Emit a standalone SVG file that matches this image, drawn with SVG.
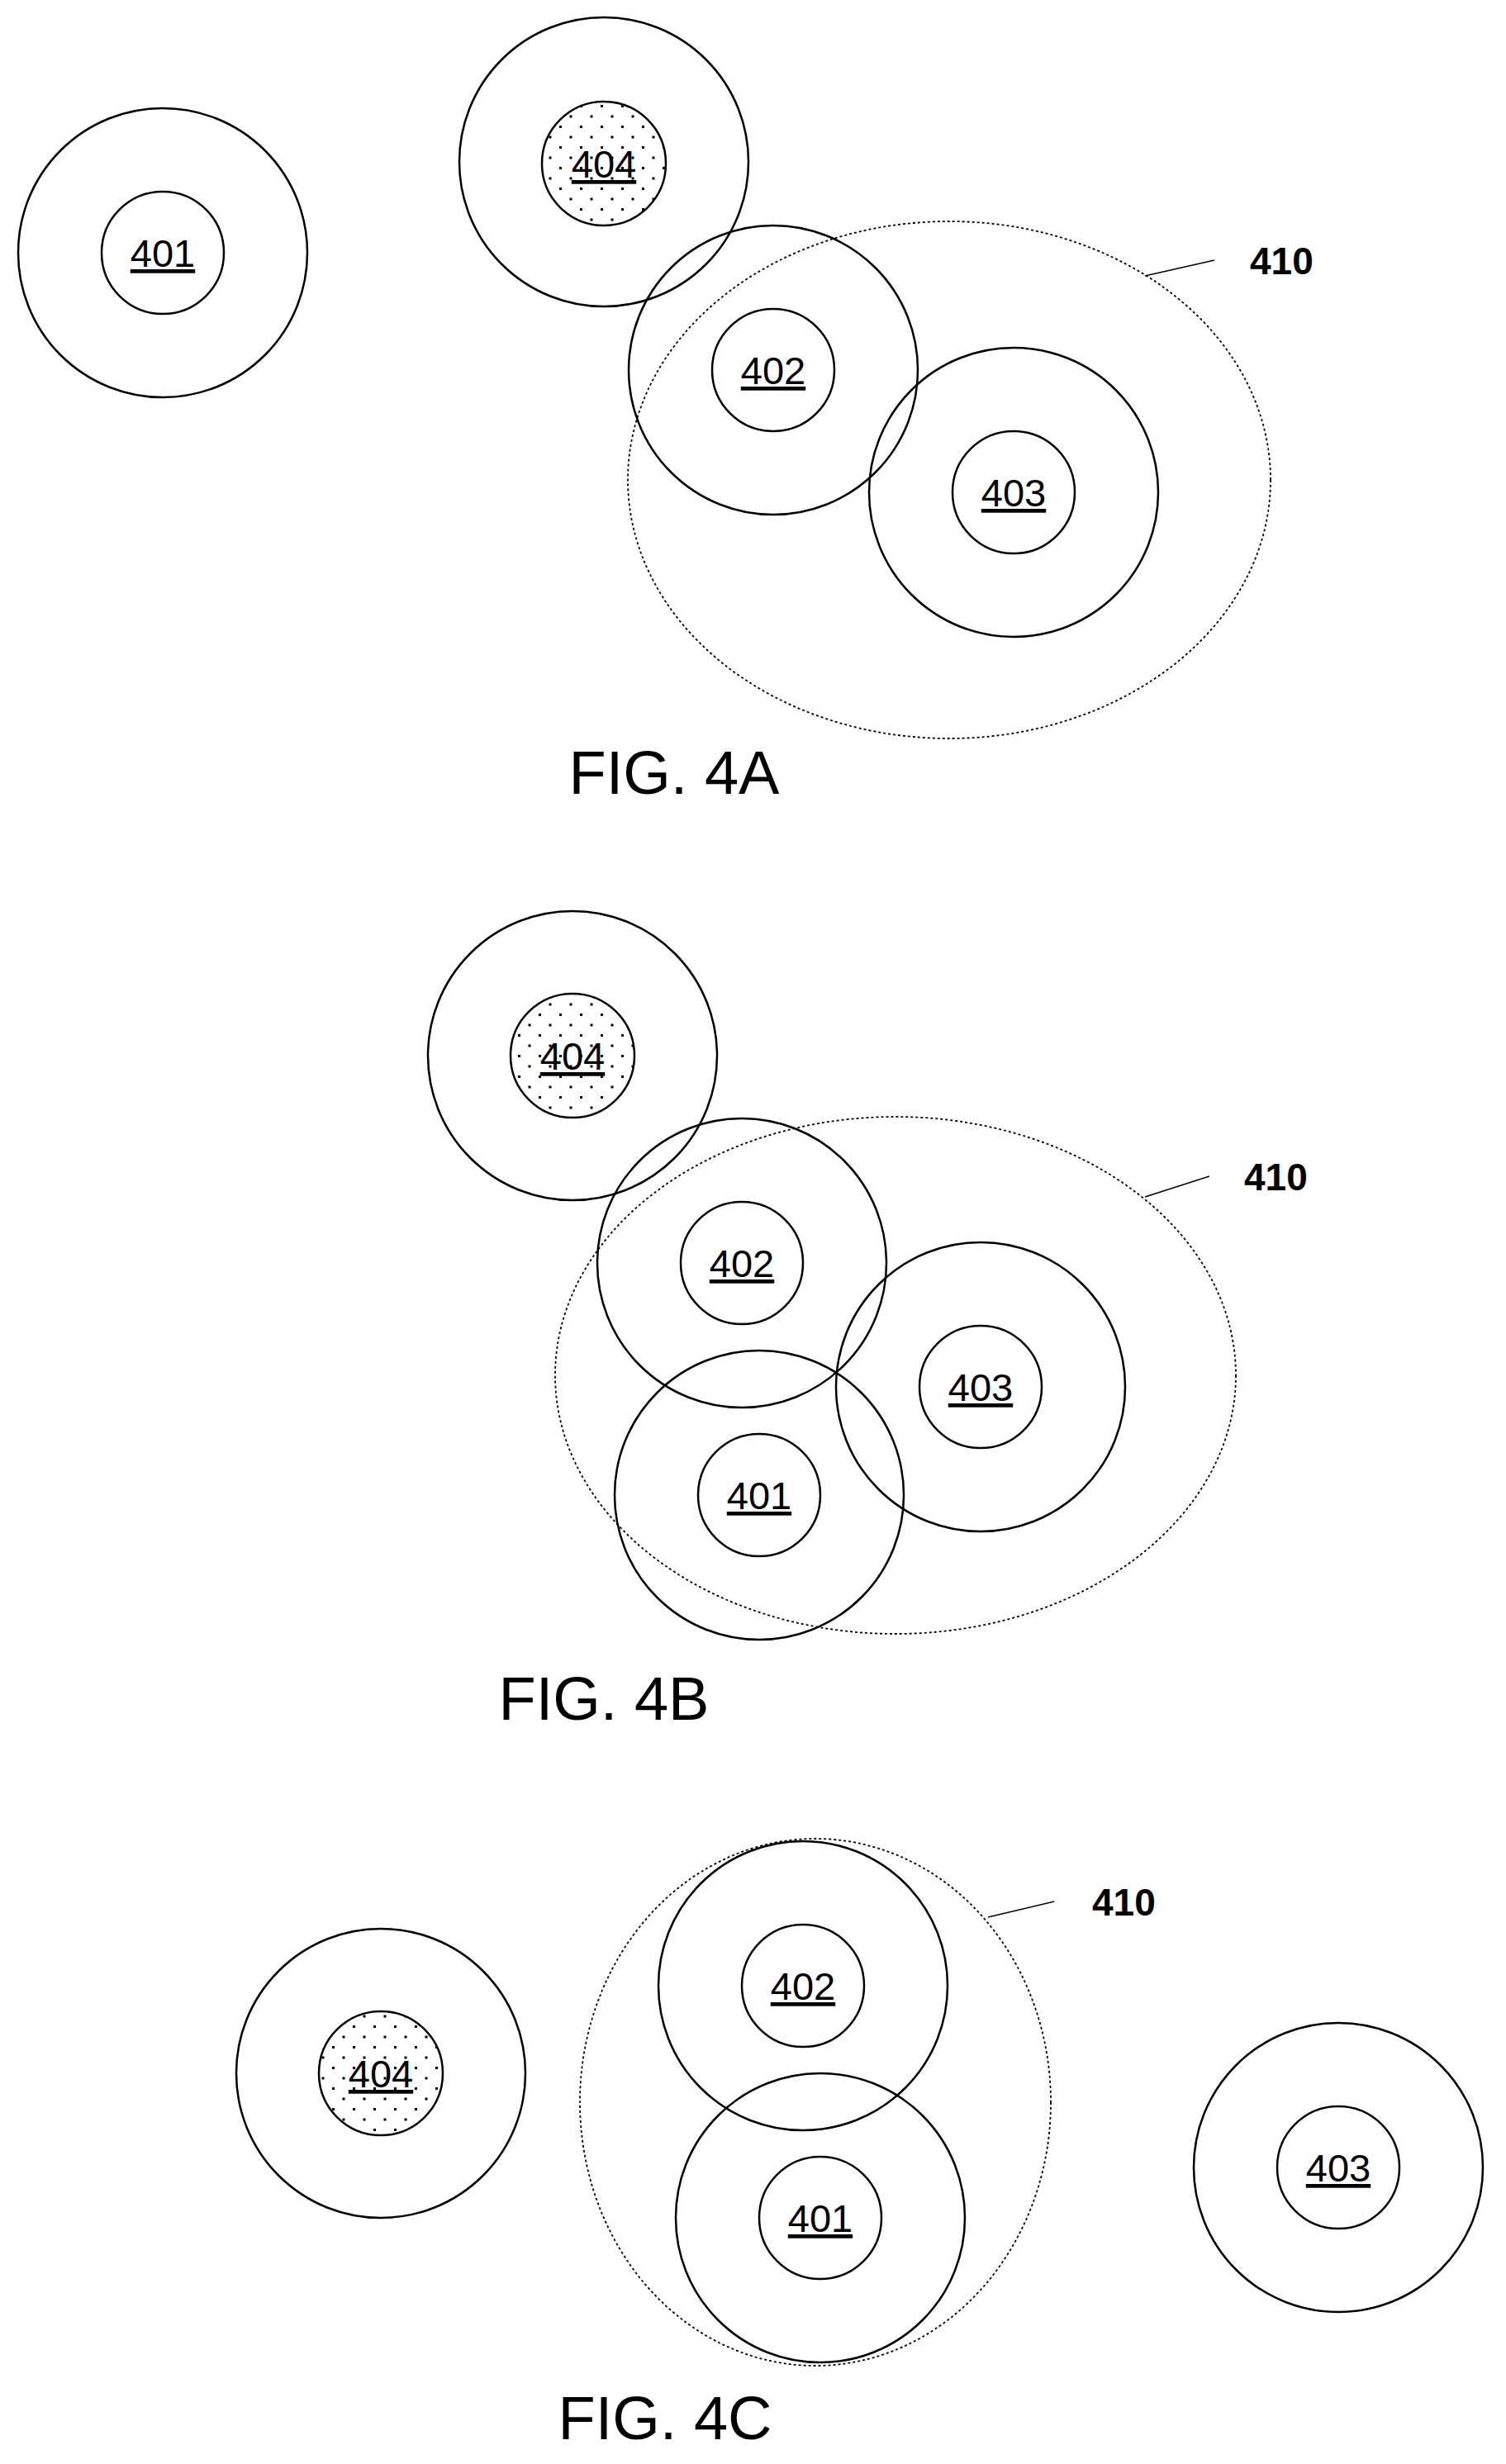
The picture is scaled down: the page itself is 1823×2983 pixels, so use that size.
<svg xmlns="http://www.w3.org/2000/svg" width="1823" height="2983" viewBox="0 0 1823 2983">
<style>
.o{fill:none;stroke:#000;stroke-width:2.5}
.i{fill:#fff;stroke:#000;stroke-width:2.5}
.s{fill:url(#dots);stroke:#000;stroke-width:2.5}
.d{fill:none;stroke:#000;stroke-width:1.8;stroke-dasharray:3 3}
.l{fill:none;stroke:#000;stroke-width:1.5}
.t{font-family:"Liberation Sans",Arial,sans-serif;font-size:47px;text-anchor:middle;text-decoration:underline}
.r{font-family:"Liberation Sans",Arial,sans-serif;font-size:46px;font-weight:bold}
.f{font-family:"Liberation Sans",Arial,sans-serif;font-size:74px;text-anchor:middle}
</style>
<defs>
<pattern id="dots" width="25" height="25" patternUnits="userSpaceOnUse">
<rect width="25" height="25" fill="#fff"/>
<rect x="2" y="2" width="3" height="3" fill="#000"/>
<rect x="14.5" y="14.5" width="3" height="3" fill="#000"/>
</pattern>
</defs>
<rect width="1823" height="2983" fill="#fff"/>
<g id="a410"><ellipse class="d" cx="1149" cy="581" rx="389" ry="313"/></g>
<g id="a401"><circle class="o" cx="197" cy="306" r="175"/><circle class="i" cx="197" cy="306" r="74"/><text class="t" x="197" y="323">401</text></g>
<g id="a404"><circle class="o" cx="731" cy="196" r="175"/><circle class="s" cx="731" cy="198" r="75"/><text class="t" x="731" y="215">404</text></g>
<g id="a402"><circle class="o" cx="936" cy="448" r="175"/><circle class="i" cx="936" cy="448" r="74"/><text class="t" x="936" y="465">402</text></g>
<g id="a403"><circle class="o" cx="1227" cy="596" r="175"/><circle class="i" cx="1227" cy="596" r="74"/><text class="t" x="1227" y="613">403</text></g>
<g id="b410"><ellipse class="d" cx="1084" cy="1665" rx="412" ry="313"/></g>
<g id="b404"><circle class="o" cx="693" cy="1278" r="175"/><circle class="s" cx="693" cy="1278" r="75"/><text class="t" x="693" y="1295">404</text></g>
<g id="b402"><circle class="o" cx="898" cy="1529" r="175"/><circle class="i" cx="898" cy="1529" r="74"/><text class="t" x="898" y="1546">402</text></g>
<g id="b401"><circle class="o" cx="919" cy="1810" r="175"/><circle class="i" cx="919" cy="1810" r="74"/><text class="t" x="919" y="1827">401</text></g>
<g id="b403"><circle class="o" cx="1187" cy="1679" r="175"/><circle class="i" cx="1187" cy="1679" r="74"/><text class="t" x="1187" y="1696">403</text></g>
<g id="c410"><ellipse class="d" cx="987" cy="2545" rx="285" ry="319"/></g>
<g id="c404"><circle class="o" cx="461" cy="2510" r="175"/><circle class="s" cx="461" cy="2510" r="75"/><text class="t" x="461" y="2527">404</text></g>
<g id="c402"><circle class="o" cx="972" cy="2404" r="175"/><circle class="i" cx="972" cy="2404" r="74"/><text class="t" x="972" y="2421">402</text></g>
<g id="c401"><circle class="o" cx="993" cy="2685" r="175"/><circle class="i" cx="993" cy="2685" r="74"/><text class="t" x="993" y="2702">401</text></g>
<g id="c403"><circle class="o" cx="1620" cy="2624" r="175"/><circle class="i" cx="1620" cy="2624" r="74"/><text class="t" x="1620" y="2641">403</text></g>
<g id="connectors">
<path class="l" d="M1386 334 L1470 315"/>
<path class="l" d="M1386 1449 L1464 1424"/>
<path class="l" d="M1196 2321 L1276 2302"/>
</g>
<g id="labels">
<text class="r" x="1513" y="332">410</text>
<text class="r" x="1506" y="1441">410</text>
<text class="r" x="1322" y="2319">410</text>
<text class="f" x="816" y="961">FIG. 4A</text>
<text class="f" x="731" y="2082">FIG. 4B</text>
<text class="f" x="805" y="2953">FIG. 4C</text>
</g>
</svg>
